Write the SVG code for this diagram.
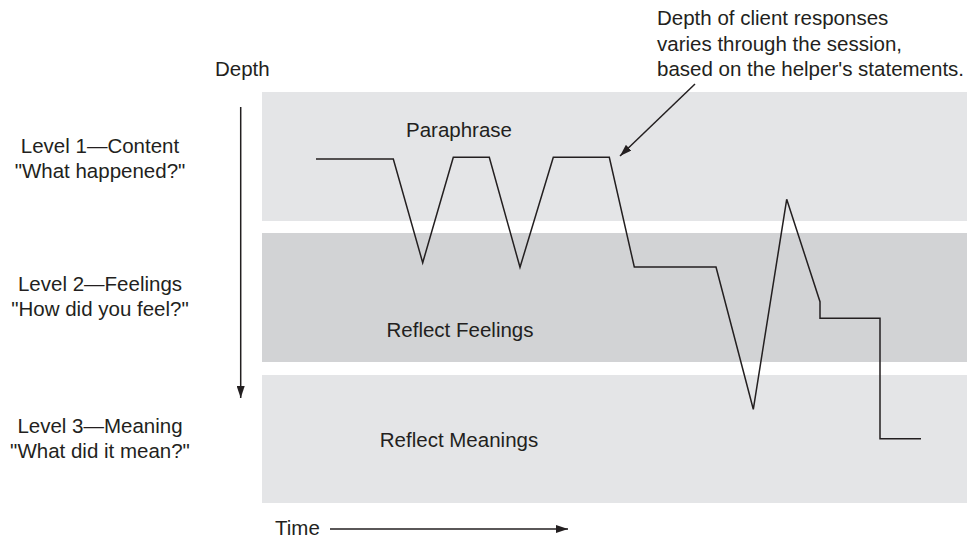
<svg xmlns="http://www.w3.org/2000/svg" width="970" height="538" viewBox="0 0 970 538">
  <style>
    text { font-family: "Liberation Sans", Arial, sans-serif; font-size: 20.5px; fill: #231f20; }
    .mid { text-anchor: middle; }
    .band-light { fill: #e4e5e7; }
    .band-dark { fill: #d2d3d5; }
    .line { fill: none; stroke: #231f20; stroke-width: 1.5; stroke-linejoin: miter; }
  </style>
  <defs>
    <marker id="arrow" viewBox="0 0 12 8" refX="12" refY="4" markerWidth="12" markerHeight="8" markerUnits="userSpaceOnUse" orient="auto">
      <path d="M0,0 L12,4 L0,8 Z" fill="#231f20"/>
    </marker>
  </defs>

  <rect width="970" height="538" fill="#ffffff"/>

  <!-- depth bands -->
  <g id="band-content">
    <rect class="band-light" x="262" y="92" width="705" height="129"/>
    <text class="mid" x="459" y="137">Paraphrase</text>
  </g>
  <g id="band-feelings">
    <rect class="band-dark" x="262" y="233" width="705" height="129"/>
    <text class="mid" x="460" y="337">Reflect Feelings</text>
  </g>
  <g id="band-meaning">
    <rect class="band-light" x="262" y="375" width="705" height="128"/>
    <text class="mid" x="459" y="447">Reflect Meanings</text>
  </g>

  <!-- level labels -->
  <g id="level-1">
    <text class="mid" x="100" y="153">Level 1—Content</text>
    <text class="mid" x="100" y="178">"What happened?"</text>
  </g>
  <g id="level-2">
    <text class="mid" x="100" y="291">Level 2—Feelings</text>
    <text class="mid" x="100" y="316">"How did you feel?"</text>
  </g>
  <g id="level-3">
    <text class="mid" x="100" y="433">Level 3—Meaning</text>
    <text class="mid" x="100" y="458">"What did it mean?"</text>
  </g>

  <!-- axis labels -->
  <g id="axis-depth">
    <text x="215" y="76">Depth</text>
  </g>
  <g id="axis-time">
    <text x="275" y="535">Time</text>
  </g>

  <!-- annotation -->
  <g id="note">
    <text x="657" y="25">Depth of client responses</text>
    <text x="657" y="51">varies through the session,</text>
    <text x="657" y="76">based on the helper's statements.</text>
  </g>

  <!-- connectors -->
  <g id="connectors">
    <line class="line" x1="240.7" y1="107" x2="240.7" y2="398" marker-end="url(#arrow)"/>
    <line class="line" x1="330" y1="529" x2="568" y2="529" marker-end="url(#arrow)"/>
    <line class="line" x1="695" y1="84" x2="620" y2="156" marker-end="url(#arrow)"/>
    <polyline class="line" points="316,159 393.3,159 422.7,262.7 453.3,157.3 489.3,157.3 520,267.3 553.3,157.3 609.3,157.3 634.3,267 716,267 753.3,409.3 786.7,199.3 820,301.7 820,318.3 880,318.3 880,438.7 921,438.7"/>
  </g>
</svg>
